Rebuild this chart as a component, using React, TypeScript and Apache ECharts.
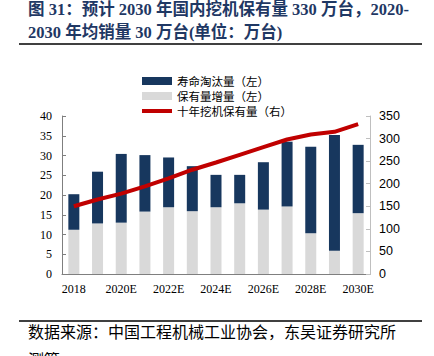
import React, { useEffect, useRef } from "react";
import * as echarts from "echarts";

const categories = ["2018", "2019", "2020E", "2021E", "2022E", "2023E", "2024E", "2025E", "2026E", "2027E", "2028E", "2029E", "2030E"];
const retiredValues = [9.0, 13.1, 17.4, 14.3, 12.6, 11.4, 8.2, 7.2, 12.0, 16.4, 21.9, 29.3, 17.3];
const stockIncrease = [11.2, 12.8, 13.0, 15.8, 16.9, 15.9, 16.9, 17.9, 16.3, 17.1, 10.3, 5.9, 15.4];
const tenYearStock = [150, 165, 178, 194, 212, 231, 247, 264, 281, 298, 309, 315, 332];

const titleLine1 = "图 31：预计 2030 年国内挖机保有量 330 万台，2020-";
const titleLine2 = "2030 年均销量 30 万台(单位：万台)";
const sourceLine1 = "数据来源：中国工程机械工业协会，东吴证券研究所";
const sourceLine2 = "测算";

const NAVY = "#17375E";
const GRAY = "#D9D9D9";
const RED = "#C00000";
const TITLE_COLOR = "#1F3864";

export default function App() {
  const ref = useRef<HTMLDivElement>(null);
  useEffect(() => {
    document.body.style.margin = "0";
    if (!ref.current) return;
    const chart = echarts.init(ref.current, null, { renderer: "svg" });
    const serif = "'Liberation Serif', 'Noto Sans CJK SC', serif";
    const cjk = "'Noto Sans CJK SC', sans-serif";
    chart.setOption({
      animation: false,
      textStyle: { fontFamily: serif },
      grid: { left: 62, right: 64, top: 116, bottom: 82, containLabel: false },
      legend: {
        orient: "vertical",
        left: 135,
        top: 70,
        itemWidth: 30,
        itemHeight: 8,
        itemGap: 3,
        textStyle: { fontFamily: cjk, fontSize: 11.5, lineHeight: 12, color: "#000" },
        data: [
          { name: "寿命淘汰量（左）", icon: "rect" },
          { name: "保有量增量（左）", icon: "rect" },
          {
            name: "十年挖机保有量（右）",
            itemStyle: { color: "rgba(0,0,0,0)", borderColor: "rgba(0,0,0,0)", borderWidth: 0, opacity: 0 },
            lineStyle: { color: RED, width: 4 },
          },
        ],
      },
      xAxis: {
        type: "category",
        data: categories,
        boundaryGap: true,
        axisLine: { lineStyle: { color: "#7F7F7F", width: 1 } },
        axisTick: { inside: true, length: 4, interval: 0, lineStyle: { color: "#7F7F7F" } },
        axisLabel: { interval: 1, fontSize: 12, color: "#000", fontFamily: serif, margin: 9 },
      },
      yAxis: [
        {
          type: "value",
          min: 0,
          max: 40,
          interval: 5,
          splitLine: { show: false },
          axisLine: { show: true, lineStyle: { color: "#7F7F7F" } },
          axisTick: { show: true, inside: true, length: 4, lineStyle: { color: "#7F7F7F" } },
          axisLabel: { fontSize: 12, color: "#000", fontFamily: serif, margin: 10 },
        },
        {
          type: "value",
          min: 0,
          max: 350,
          interval: 50,
          position: "right",
          splitLine: { show: false },
          axisLine: { show: true, lineStyle: { color: "#BFBFBF" } },
          axisTick: { show: true, inside: true, length: 4, lineStyle: { color: "#BFBFBF" } },
          axisLabel: { fontSize: 12.5, color: "#000", fontFamily: "'Liberation Sans', Arial, sans-serif", margin: 9 },
        },
      ],
      series: [
        {
          name: "保有量增量（左）",
          type: "bar",
          stack: "total",
          barWidth: 11,
          data: stockIncrease,
          itemStyle: { color: GRAY },
        },
        {
          name: "寿命淘汰量（左）",
          type: "bar",
          stack: "total",
          barWidth: 11,
          data: retiredValues,
          itemStyle: { color: NAVY },
        },
        {
          name: "十年挖机保有量（右）",
          type: "line",
          yAxisIndex: 1,
          data: tenYearStock,
          symbol: "none",
          smooth: false,
          lineStyle: { color: RED, width: 4 },
          itemStyle: { color: RED },
          z: 5,
        },
      ],
      graphic: [
        {
          type: "text",
          left: 28,
          top: 1,
          style: { text: titleLine1, font: `bold 16.5px ${serif}`, fill: TITLE_COLOR },
        },
        {
          type: "text",
          left: 28,
          top: 24,
          style: { text: titleLine2, font: `bold 16.5px ${serif}`, fill: TITLE_COLOR },
        },
        {
          type: "line",
          shape: { x1: 19, y1: 44, x2: 422, y2: 44 },
          style: { stroke: "#000", lineWidth: 1.5 },
        },
        {
          type: "line",
          shape: { x1: 19, y1: 321, x2: 422, y2: 321 },
          style: { stroke: "#000", lineWidth: 1.5 },
        },
        {
          type: "text",
          left: 28,
          top: 323,
          style: { text: sourceLine1, font: `16px ${cjk}`, fill: "#000" },
        },
        {
          type: "text",
          left: 28,
          top: 351,
          style: { text: sourceLine2, font: `16px ${cjk}`, fill: "#000" },
        },
      ],
    });
    return () => chart.dispose();
  }, []);
  return <div ref={ref} style={{ width: 434, height: 356 }} />;
}
